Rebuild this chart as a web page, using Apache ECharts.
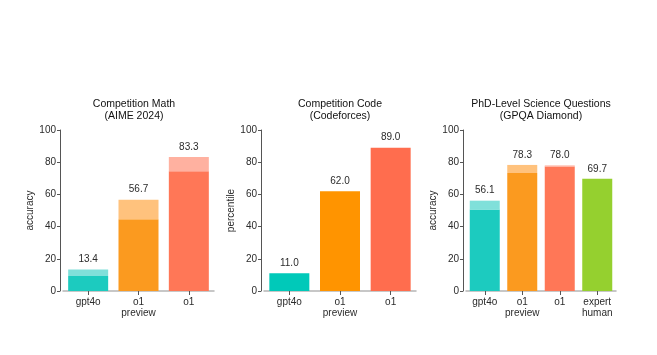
<!DOCTYPE html>
<html><head><meta charset="utf-8">
<script src="https://cdn.jsdelivr.net/npm/echarts@6/dist/echarts.min.js"></script>
<style>html,body{margin:0;padding:0;background:#fff}#c{width:657px;height:355px}</style>
</head><body><div id="c"></div>
<script>
// ---- data ----
const mathCats = ['gpt4o', 'o1\npreview', 'o1'];
const mathPass1 = [9.3, 44.6, 74.4];
const mathCons = [13.4, 56.7, 83.3];

const codeCats = ['gpt4o', 'o1\npreview', 'o1'];
const codeVals = [11.0, 62.0, 89.0];

const sciCats = ['gpt4o', 'o1\npreview', 'o1', 'expert\nhuman'];
const sciPass1 = [50.6, 73.3, 77.3, 69.7];
const sciCons = [56.1, 78.3, 78.0, 69.7];

const yTicks = [0, 20, 40, 60, 80, 100];

// ---- styles ----
const solidColors = ['#1ccbbf', '#fb9a1f', '#ff7757'];
const lightColors = ['#80e0da', '#ffc27d', '#ffb1a0'];
const codeColors = ['#00c9b9', '#ff9400', '#ff6d4e'];
const sciSolid = ['#1ccbbf', '#fb9a1f', '#ff7757', '#95d02f'];
const sciLight = ['#80e0da', '#ffc27d', '#ffb1a0', '#95d02f'];

const FONT = '"Liberation Sans", Arial, sans-serif';
const TXT = '#2b2b2b';

function yAx(idx, name) {
  return {
    gridIndex: idx, type: 'value', min: yTicks[0], max: yTicks[yTicks.length - 1], interval: 20,
    offset: 3,
    name: name, nameLocation: 'middle', nameGap: 24,
    nameTextStyle: { fontFamily: FONT, fontSize: 10, color: TXT },
    axisLine: { show: true, lineStyle: { color: '#555', width: 1 } },
    axisTick: { show: true, length: 3, lineStyle: { color: '#555' } },
    axisLabel: { fontFamily: FONT, fontSize: 10, color: TXT, margin: 4 },
    splitLine: { show: false }
  };
}
function xAx(idx, cats) {
  return {
    gridIndex: idx, type: 'category', data: cats,
    axisLine: { show: true, lineStyle: { color: '#b5b5b5', width: 1.5 } },
    axisTick: { show: true, alignWithLabel: true, length: 4, lineStyle: { color: '#555' } },
    axisLabel: { fontFamily: FONT, fontSize: 10, color: TXT, lineHeight: 11, margin: 6, interval: 0 }
  };
}
const lbl = (totals) => ({
  show: true, position: 'top', distance: 5, fontFamily: FONT, fontSize: 10, color: TXT,
  formatter: p => totals[p.dataIndex].toFixed(1)
});
const titleStyle = { fontFamily: FONT, fontSize: 10.5, fontWeight: 'normal', color: '#111', lineHeight: 12 };

const option = {
  animation: false,
  backgroundColor: '#fff',
  title: [
    { text: 'Competition Math\n(AIME 2024)', left: 129, top: 93, textAlign: 'center', textStyle: titleStyle },
    { text: 'Competition Code\n(Codeforces)', left: 335, top: 93, textAlign: 'center', textStyle: titleStyle },
    { text: 'PhD-Level Science Questions\n(GPQA Diamond)', left: 536, top: 93, textAlign: 'center', textStyle: titleStyle }
  ],
  grid: [
    { left: 63, top: 130, width: 151, height: 161 },
    { left: 264, top: 130, width: 152, height: 161 },
    { left: 466, top: 130, width: 150, height: 161 }
  ],
  xAxis: [xAx(0, mathCats), xAx(1, codeCats), xAx(2, sciCats)],
  yAxis: [yAx(0, 'accuracy'), yAx(1, 'percentile'), yAx(2, 'accuracy')],
  series: [
    { type: 'bar', xAxisIndex: 0, yAxisIndex: 0, stack: 'm', barWidth: 40,
      data: mathPass1.map((v, i) => ({ value: v, itemStyle: { color: solidColors[i] } })) },
    { type: 'bar', xAxisIndex: 0, yAxisIndex: 0, stack: 'm', barWidth: 40,
      data: mathCons.map((v, i) => ({ value: +(v - mathPass1[i]).toFixed(1), itemStyle: { color: lightColors[i] } })),
      label: lbl(mathCons) },
    { type: 'bar', xAxisIndex: 1, yAxisIndex: 1, barWidth: 40,
      data: codeVals.map((v, i) => ({ value: v, itemStyle: { color: codeColors[i] } })),
      label: lbl(codeVals) },
    { type: 'bar', xAxisIndex: 2, yAxisIndex: 2, stack: 's', barWidth: 30,
      data: sciPass1.map((v, i) => ({ value: v, itemStyle: { color: sciSolid[i] } })) },
    { type: 'bar', xAxisIndex: 2, yAxisIndex: 2, stack: 's', barWidth: 30,
      data: sciCons.map((v, i) => ({ value: +(v - sciPass1[i]).toFixed(1), itemStyle: { color: sciLight[i] } })),
      label: lbl(sciCons) }
  ]
};
echarts.init(document.getElementById('c'), null, { renderer: 'canvas' }).setOption(option);
</script>
</body></html>
